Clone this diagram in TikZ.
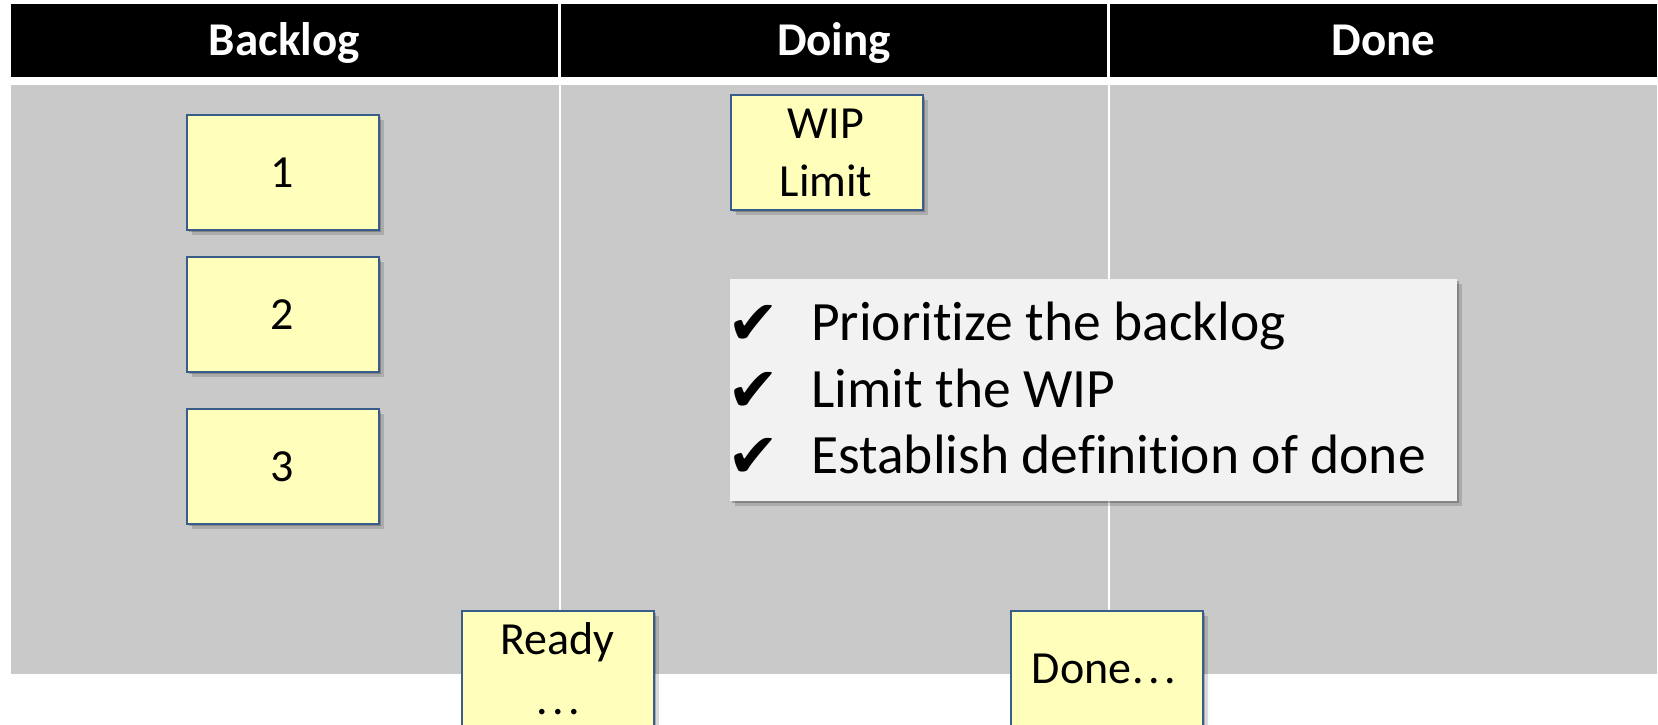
\documentclass[tikz,border=0pt]{standalone}
\usepackage{fontspec}
\setmainfont{Carlito}[Ligatures=CommonOff]
\newfontfamily\checkfont{DejaVu Sans}
\usetikzlibrary{shadows}
\definecolor{cellgray}{RGB}{201,201,201}
\definecolor{stickyfill}{RGB}{255,255,187}
\definecolor{stickyline}{RGB}{56,93,138}
\definecolor{panelfill}{RGB}{242,242,242}
\newcommand{\chk}{\makebox[84pt][l]{\raisebox{-4pt}{\checkfont\fontsize{62}{62}\selectfont ✔}}}
\newcommand{\wdots}{\kern1pt.\kern4.5pt.\kern4.5pt.}
\begin{document}
\begin{tikzpicture}[x=1pt,y=-1pt,
  headcell/.style={fill=black, draw=none, inner sep=0pt, anchor=north west,
    minimum height=72.5pt},
  headtext/.style={anchor=base, inner sep=0pt, text=white,
    font=\fontsize{47}{56}\selectfont\bfseries},
  bodycell/.style={fill=cellgray, draw=none, inner sep=0pt, anchor=north west,
    minimum height=589.5pt},
  softshadow/.style={drop shadow={shadow xshift=2pt, shadow yshift=-2pt, opacity=0.22, fill=black},
    drop shadow={shadow xshift=5pt, shadow yshift=-5pt, opacity=0.15, fill=black}},
  sticky/.style={fill=stickyfill, draw=stickyline, line width=1.8pt, inner sep=0pt,
    anchor=north west, minimum width=192pt, minimum height=115pt, align=center,
    font=\fontsize{46}{53}\selectfont, softshadow},
  stickytext/.style={anchor=base, inner sep=0pt, font=\fontsize{46}{53}\selectfont},
  panel/.style={fill=panelfill, draw=none, inner sep=0pt, anchor=north west,
    minimum width=727pt, minimum height=222pt, softshadow},
  item/.style={anchor=base west, inner sep=0pt, font=\fontsize{55.5}{68}\selectfont},
]
\useasboundingbox (0,0) rectangle (1658,724);
% header
\node[headcell, minimum width=547.5pt] (h1) at (10.5,4) {};
\node[headcell, minimum width=546pt] (h2) at (561,4) {};
\node[headcell, minimum width=547pt] (h3) at (1110,4) {};
\node[headtext] (h1t) at (284.25,55) {Backlog};
\node[headtext] (h2t) at (834,55) {Doing};
\node[headtext] (h3t) at (1383.5,55) {Done};
% body
\node[bodycell, minimum width=548pt] (b1) at (10.5,84.5) {};
\node[bodycell, minimum width=547pt] (b2) at (560.5,84.5) {};
\node[bodycell, minimum width=547.5pt] (b3) at (1109.5,84.5) {};
% backlog stickies
\node[sticky] (s1) at (186,114) {};
\node[sticky] (s2) at (186,256) {};
\node[sticky] (s3) at (186,408) {};
\node[stickytext] (s1t) at (282,187) {1};
\node[stickytext] (s2t) at (282,329) {2};
\node[stickytext] (s3t) at (282,481) {3};
% WIP limit
\node[sticky] (wip) at (730,94) {};
\node[stickytext] (wipa) at (826,138) {WIP};
\node[stickytext] (wipb) at (826,196) {Limit};
% bottom stickies
\node[sticky, minimum height=125pt] (ready) at (461,610) {};
\node[stickytext] (readyt) at (557.5,654) {Ready};
\node[stickytext] (readyd) at (557.5,714) {\wdots};
\node[sticky, minimum height=125pt] (donen) at (1010,610) {};
\node[stickytext] (donet) at (1104,683) {Done\wdots};
% checklist panel
\node[panel] (chk) at (730,279) {};
\node[item] (l1) at (727,340) {\chk Prioritize the backlog};
\node[item] (l2) at (727,407) {\chk Limit the WIP};
\node[item] (l3) at (727,473) {\chk Establish definition of done};
\end{tikzpicture}
\end{document}
